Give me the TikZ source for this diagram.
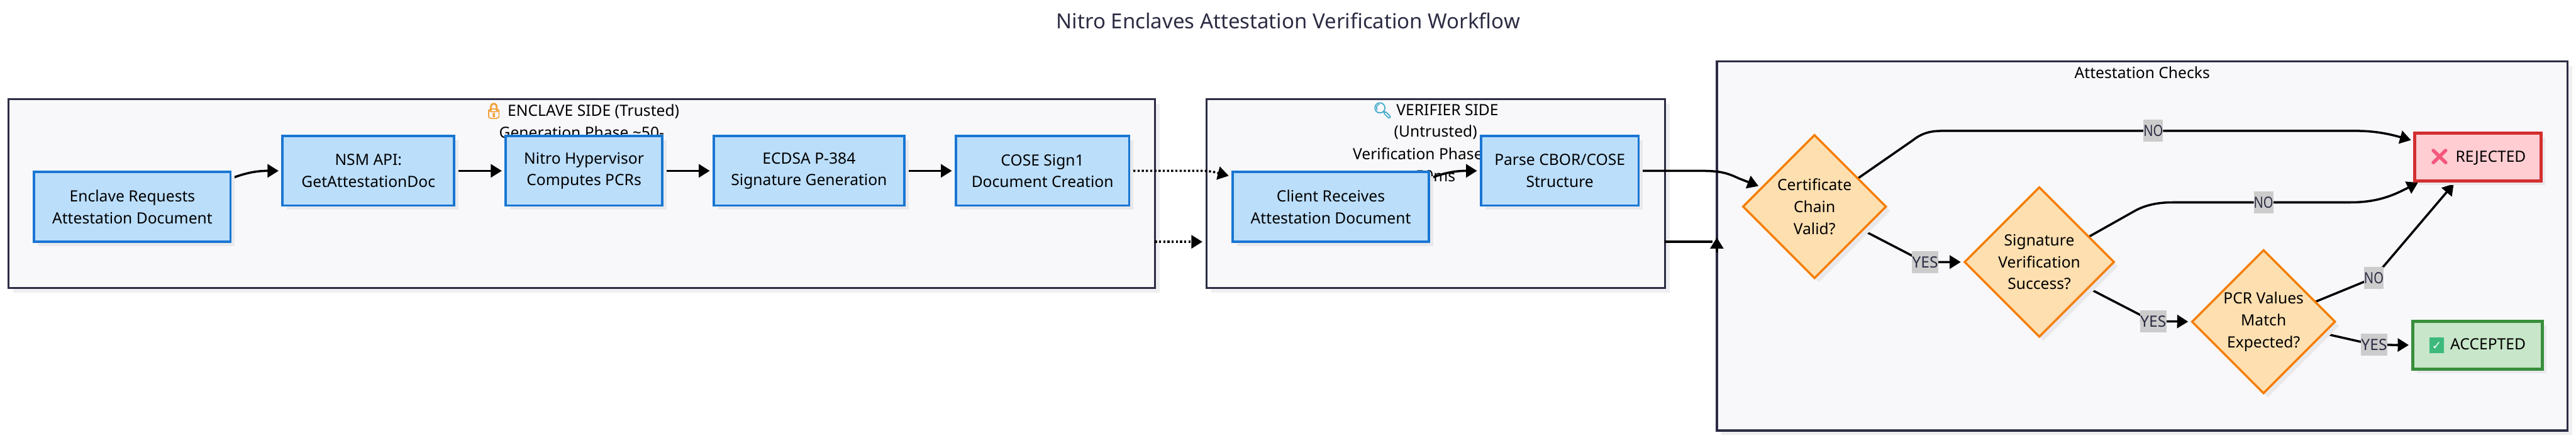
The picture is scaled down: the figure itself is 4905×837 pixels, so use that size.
\documentclass[tikz,border=0pt]{standalone}
\usepackage{fontspec}
\setmainfont{Noto Sans}
\newfontfamily\emojifont[FakeBold=3]{Noto Emoji}
\newfontfamily\dejafont{DejaVu Sans}
\newfontfamily\narrowfont[FakeStretch=0.82]{Noto Sans}
\usetikzlibrary{shapes.geometric,shadows,arrows.meta,calc}
\definecolor{ink}{HTML}{2C2C44}
\definecolor{clfill}{HTML}{F8F8FB}
\definecolor{bfill}{HTML}{BBDEFB}
\definecolor{bline}{HTML}{1976D2}
\definecolor{ofill}{HTML}{FEDFB0}
\definecolor{oline}{HTML}{F57C00}
\definecolor{rfill}{HTML}{FFCDD2}
\definecolor{rline}{HTML}{D32F2F}
\definecolor{gfill}{HTML}{C8E6C9}
\definecolor{gline}{HTML}{388E3C}
\definecolor{lblgrey}{HTML}{CCCCCC}
\definecolor{shnode}{HTML}{E9E9EC}
\definecolor{shclu}{HTML}{EFEFF1}
\definecolor{okgreen}{HTML}{3DB97C}
\pgfdeclarelayer{clusterlayer}
\pgfdeclarelayer{edgelayer}
\pgfsetlayers{clusterlayer,edgelayer,main}
\tikzset{
  x=1pt,y=-1pt,
  txt/.style={font=\fontsize{29.5}{41.5}\selectfont,align=center,text=black,inner sep=0pt,outer sep=0pt},
  cluster/.style={draw=ink,line width=4pt,fill=clfill,inner sep=0pt,outer sep=0pt,
    drop shadow={shadow xshift=9pt,shadow yshift=-9pt,fill=shclu,opacity=1}},
  proc/.style={txt,draw=bline,line width=4.5pt,fill=bfill,
    drop shadow={shadow xshift=8pt,shadow yshift=-8pt,fill=shnode,opacity=1}},
  deci/.style={txt,diamond,aspect=1,draw=oline,line width=4pt,fill=ofill,
    drop shadow={shadow xshift=8pt,shadow yshift=-8pt,fill=shnode,opacity=1}},
  rejbox/.style={txt,draw=rline,line width=6pt,fill=rfill,
    drop shadow={shadow xshift=8pt,shadow yshift=-8pt,fill=shnode,opacity=1}},
  accbox/.style={txt,draw=gline,line width=6pt,fill=gfill,
    drop shadow={shadow xshift=8pt,shadow yshift=-8pt,fill=shnode,opacity=1}},
  elabel/.style={txt,text=ink,fill=lblgrey,minimum height=42pt},
  nolabel/.style={elabel,font=\fontsize{29.5}{41.5}\narrowfont,minimum width=36pt},
  yeslabel/.style={elabel,minimum width=50pt},
  flow/.style={draw=black,line width=4.2pt,-{Triangle[length=21pt,width=25pt]},shorten >=7.5pt},
  dots/.style={flow,dash pattern=on 4pt off 4pt},
  cltext/.style={txt,text=black},
  titletext/.style={txt,text=ink,font=\fontsize{39.5}{48}\selectfont},
}
\begin{document}
\begin{tikzpicture}
\useasboundingbox (0,0) rectangle (4905,837);
% title
\node[titletext] (title) at (2453,39) {Nitro Enclaves Attestation Verification Workflow};
% nodes (main layer)
\node[proc,minimum width=374pt,minimum height=133pt] (n1) at (252,393.5) {Enclave Requests\\Attestation Document};
\node[proc,minimum width=327pt,minimum height=132pt] (n2) at (701.5,325) {NSM API:\\GetAttestationDoc};
\node[proc,minimum width=298pt,minimum height=132pt] (n3) at (1112,325) {Nitro Hypervisor\\Computes PCRs};
\node[proc,minimum width=363pt,minimum height=132pt] (n4) at (1540.5,325) {ECDSA P-384\\Signature Generation};
\node[proc,minimum width=330pt,minimum height=132pt] (n5) at (1985,325) {COSE Sign1\\Document Creation};
\node[proc,minimum width=374pt,minimum height=133pt] (cl) at (2534,393.5) {Client Receives\\Attestation Document};
\node[proc,minimum width=300pt,minimum height=132pt] (pa) at (2970,325) {Parse CBOR/COSE\\Structure};
\node[deci,minimum width=272pt,minimum height=272pt] (d1) at (3455,393) {Certificate\\Chain\\Valid?};
\node[deci,minimum width=284pt,minimum height=284pt] (d2) at (3883,498.5) {Signature\\Verification\\Success?};
\node[deci,minimum width=272pt,minimum height=272pt] (d3) at (4310,612) {PCR Values\\Match\\Expected?};
\node[rejbox,minimum width=240pt,minimum height=91pt] (rej) at (4718,298.5) {{\emojifont\textcolor[HTML]{F4577C}{❌}}\hspace{12pt}REJECTED};
\node[accbox,minimum width=247pt,minimum height=91pt] (acc) at (4717.5,656.5) {{\fboxsep=0pt\colorbox{okgreen}{\makebox[28pt]{\rule[-6pt]{0pt}{30pt}\fontsize{22}{22}\dejafont\textcolor{white}{✓}}}}\hspace{12pt}ACCEPTED};
% edge labels
\node[nolabel] (no1) at (4100,249) {NO};
\node[nolabel] (no2) at (4310,385) {NO};
\node[nolabel] (no3) at (4520,528.5) {NO};
\node[yeslabel] (y1) at (3665.5,498.5) {YES};
\node[yeslabel] (y2) at (4100,611) {YES};
\node[yeslabel] (y3) at (4520.5,656) {YES};
% clusters
\begin{pgfonlayer}{clusterlayer}
\node[cluster,minimum width=2183pt,minimum height=359pt] (enc) at (1107.5,368.5) {};
\node[cluster,minimum width=873pt,minimum height=359pt] (ver) at (2733.5,368.5) {};
\node[cluster,minimum width=1620pt,minimum height=702pt] (chk) at (4079,468) {};
\node[cltext] (enct1) at (1107.5,211) {{\emojifont\textcolor[HTML]{F2A23C}{🔒}} ENCLAVE SIDE (Trusted)};
\node[cltext] (enct2) at (1107.5,252) {Generation Phase \textasciitilde50-};
\node[cltext] (vert1) at (2733.5,210) {{\emojifont\textcolor[HTML]{3FA9C9}{🔍}} VERIFIER SIDE};
\node[cltext] (vert2) at (2733.5,252) {(Untrusted)};
\node[cltext] (vert3) at (2733.5,293) {Verification Phase \textasciitilde10-};
\node[cltext] (vert4) at (2733.5,335) {50ms};
\node[cltext] (chkt) at (4079,137.5) {Attestation Checks};
\end{pgfonlayer}
% edges
\begin{pgfonlayer}{edgelayer}
\path[flow] (n1.16.5) .. controls (470,328) and (490,325) .. (n2.west);
\path[flow] (n2.east) -- (n3.west);
\path[flow] (n3.east) -- (n4.west);
\path[flow] (n4.east) -- (n5.west);
\path[dots] (n5.east) -- (2285,325) .. controls (2310,325) and (2322,330) .. (cl.163.4);
\path[dots] (enc.east |- cl.south) -- (ver.west |- cl.south);
\path[flow] (cl.16.5) .. controls (2752,328) and (2772,325) .. (pa.west);
\path[flow] (pa.east) -- (3235,325) .. controls (3270,325) and (3285,327) .. (3310,339) -- (d1.160.5);
\draw[draw=black,line width=4.2pt] (ver.east |- cl.south) -- ($(chk.west |- cl.south)+(-8,0)$);
\coordinate (vctail) at ($(chk.west |- cl.south)+(0,20)$);
\coordinate (vchead) at ($(chk.west |- cl.south)+(0,-8)$);
\path[flow,shorten >=0pt] (vctail) -- (vchead);
\path[flow] (d1.33.7) -- (3642,267) .. controls (3662,251) and (3680,249) .. (3700,249) -- (no1) -- (4486,249) .. controls (4530,249) and (4560,258) .. (rej.166.7);
\path[flow] (d1.-26.6) -- (3640,486) .. controls (3652,494) and (3660,498.5) .. (y1) -- (d2.west);
\path[flow] (d2.27) -- (4067,400) .. controls (4090,388) and (4115,385) .. (4137,385) -- (no2) -- (4475,385) .. controls (4530,385) and (4560,370) .. (rej.203.8);
\path[flow] (d2.-28) -- (4075,599) .. controls (4085,606) and (4092,611) .. (y2) -- (d3.west);
\path[flow] (d3.21.6) -- (no3.center) -- (rej.228);
\path[flow] (d3.-11.9) -- (y3.center) -- (acc.west);
\end{pgfonlayer}
\end{tikzpicture}
\end{document}
